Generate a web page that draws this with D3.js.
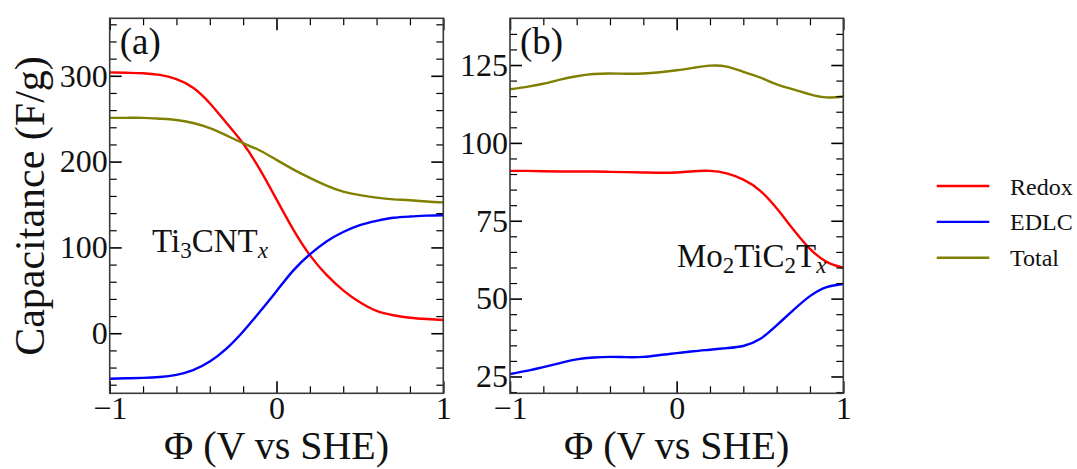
<!DOCTYPE html>
<html>
<head>
<meta charset="utf-8">
<script src="https://cdn.jsdelivr.net/npm/d3@7"></script>
<style>
  body { margin: 0; background: #fff; }
  svg text { font-family: "Liberation Serif", "Times New Roman", serif; fill: #111; }
</style>
</head>
<body>
<svg id="chart" width="1077" height="469"></svg>
<script>
// potential axis (V vs SHE)
const phi = [-1, -0.9, -0.8, -0.7, -0.6, -0.5, -0.4, -0.3, -0.2, -0.1, 0,
  0.1, 0.2, 0.3, 0.4, 0.5, 0.6, 0.7, 0.8, 0.9, 1];

// (a) Ti3CNTx
const redoxA = [304, 303.5, 303, 301, 296, 286, 268, 245, 221, 191, 156,
  121, 91, 68, 50, 36, 26, 21, 18, 16.5, 15.5];
const edlcA = [-53, -52.5, -52, -51, -48.5, -43, -33, -18, 2, 25, 49,
  73, 92, 107, 118, 126, 131, 134.5, 136, 137, 137.5];
const totalA = [251, 251, 251, 250, 248.5, 245, 239, 230.5, 221.5, 213, 202,
  191, 181, 172, 165, 161, 158, 156, 155, 153.5, 152.5];

// (b) Mo2TiC2Tx
const redoxB = [91, 91, 90.9, 90.8, 90.8, 90.8, 90.7, 90.6, 90.5, 90.4, 90.5,
  90.9, 91, 90.2, 88.2, 84.7, 79, 72.2, 66, 61.8, 59.9];
const edlcB = [25.8, 26.8, 28, 29.3, 30.5, 31.1, 31.3, 31.2, 31.3, 31.9, 32.5,
  33.1, 33.6, 34.1, 34.8, 37, 41.4, 46.3, 50.8, 53.7, 54.7];
const totalB = [117.2, 118, 119, 120.3, 121.4, 122.1, 122.3, 122.2, 122.3, 122.7, 123.3,
  124.1, 124.8, 124.5, 122.8, 121, 118.8, 117.2, 115.6, 114.6, 114.9];

const seriesNames = ["Redox", "EDLC", "Total"];
const seriesColors = ["#ff0000", "#0000ff", "#808000"];

const xMajor = [-1, 0, 1];
const xMinor = [-0.8, -0.6, -0.4, -0.2, 0.2, 0.4, 0.6, 0.8];
const yMajorA = [0, 100, 200, 300];
const yMajorB = [25, 50, 75, 100, 125];

const svg = d3.select("#chart");
const plotTop = 18.3, plotBottom = 393.3;

function fmt(d) {
  return d < 0 ? "\u2212" + Math.abs(d) : String(d);
}

function panel(left, right, yDomain, yMajor, yMinorStep, data, tag, clipId) {
  const x = d3.scaleLinear().domain([-1, 1]).range([left, right]);
  const y = d3.scaleLinear().domain(yDomain).range([plotBottom, plotTop]);
  const yMinor = d3.range(Math.ceil(yDomain[0] / yMinorStep) * yMinorStep, yDomain[1], yMinorStep)
    .filter(v => yMajor.indexOf(v) < 0);

  const g = svg.append("g");

  // curves first, frame on top
  const line = d3.line()
    .x((d, i) => x(phi[i]))
    .y(d => y(d))
    .curve(d3.curveNatural);

  svg.append("clipPath").attr("id", clipId)
    .append("rect").attr("x", left).attr("y", plotTop)
    .attr("width", right - left).attr("height", plotBottom - plotTop);

  data.forEach((s, i) => {
    g.append("path")
      .attr("d", line(s))
      .attr("fill", "none")
      .attr("stroke", seriesColors[i])
      .attr("stroke-width", 2.4)
      .attr("clip-path", "url(#" + clipId + ")");
  });

  function styleAxis(sel, w) {
    sel.select(".domain").remove();
    sel.selectAll(".tick line").attr("stroke", "#000").attr("stroke-width", w);
    sel.selectAll(".tick text").attr("font-size", 32).attr("fill", "#111");
  }

  // bottom
  g.append("g").attr("transform", "translate(0," + plotBottom + ")")
    .call(d3.axisBottom(x).tickValues(xMinor).tickSize(-7).tickFormat(""))
    .call(styleAxis, 1.2);
  g.append("g").attr("transform", "translate(0," + plotBottom + ")")
    .call(d3.axisBottom(x).tickValues(xMajor).tickSize(-12).tickPadding(3).tickFormat(fmt))
    .call(styleAxis, 1.6);
  // top
  g.append("g").attr("transform", "translate(0," + plotTop + ")")
    .call(d3.axisTop(x).tickValues(xMinor).tickSize(-7).tickFormat(""))
    .call(styleAxis, 1.2);
  g.append("g").attr("transform", "translate(0," + plotTop + ")")
    .call(d3.axisTop(x).tickValues(xMajor).tickSize(-12).tickFormat(""))
    .call(styleAxis, 1.6);
  // left
  g.append("g").attr("transform", "translate(" + left + ",0)")
    .call(d3.axisLeft(y).tickValues(yMinor).tickSize(-7).tickFormat(""))
    .call(styleAxis, 1.2);
  g.append("g").attr("transform", "translate(" + left + ",0)")
    .call(d3.axisLeft(y).tickValues(yMajor).tickSize(-12).tickPadding(2).tickFormat(fmt))
    .call(styleAxis, 1.6);
  // right
  g.append("g").attr("transform", "translate(" + right + ",0)")
    .call(d3.axisRight(y).tickValues(yMinor).tickSize(-7).tickFormat(""))
    .call(styleAxis, 1.2);
  g.append("g").attr("transform", "translate(" + right + ",0)")
    .call(d3.axisRight(y).tickValues(yMajor).tickSize(-12).tickFormat(""))
    .call(styleAxis, 1.6);

  g.append("rect")
    .attr("x", left).attr("y", plotTop)
    .attr("width", right - left).attr("height", plotBottom - plotTop)
    .attr("fill", "none").attr("stroke", "#3a3a3a").attr("stroke-width", 1.6);

  g.append("text")
    .attr("x", left + 10).attr("y", 54)
    .attr("font-size", 37)
    .text(tag);

  g.append("text")
    .attr("x", (left + right) / 2).attr("y", 459)
    .attr("text-anchor", "middle")
    .attr("font-size", 40)
    .text("\u03A6 (V vs SHE)");

  return g;
}

const gA = panel(109.7, 443.3, [-70, 367], yMajorA, 20, [redoxA, edlcA, totalA], "(a)", "clipA");
const gB = panel(510, 843.3, [19.6, 140], yMajorB, 5, [redoxB, edlcB, totalB], "(b)", "clipB");

// material labels with subscripts
function chem(g, x, y, parts) {
  const t = g.append("text").attr("x", x).attr("y", y).attr("font-size", 33);
  parts.forEach(p => {
    const sp = t.append("tspan").text(p[0]);
    if (p[1] === "sub") sp.attr("font-size", 23).attr("dy", 6);
    if (p[1] === "subi") sp.attr("font-size", 23).attr("dy", 6).attr("font-style", "italic");
    if (p[1] === "back") sp.attr("dy", -6);
  });
}
chem(gA, 152, 252, [["Ti"], ["3", "sub"], ["CNT", "back"], ["x", "subi"]]);
chem(gB, 677, 267, [["Mo"], ["2", "sub"], ["TiC", "back"], ["2", "sub"], ["T", "back"], ["x", "subi"]]);

// y axis title
svg.append("text")
  .attr("transform", "translate(44,206) rotate(-90)")
  .attr("text-anchor", "middle")
  .attr("font-size", 42)
  .text("Capacitance (F/g)");

// legend
const legendY = d3.scalePoint().domain(seriesNames).range([186, 257.7]);
const leg = svg.append("g");
seriesNames.forEach((n, i) => {
  leg.append("line")
    .attr("x1", 936.7).attr("x2", 989.3)
    .attr("y1", legendY(n)).attr("y2", legendY(n))
    .attr("stroke", seriesColors[i]).attr("stroke-width", 2.4);
  leg.append("text")
    .attr("x", 1010).attr("y", legendY(n) + 8.5)
    .attr("font-size", 24)
    .text(n);
});
</script>
</body>
</html>
